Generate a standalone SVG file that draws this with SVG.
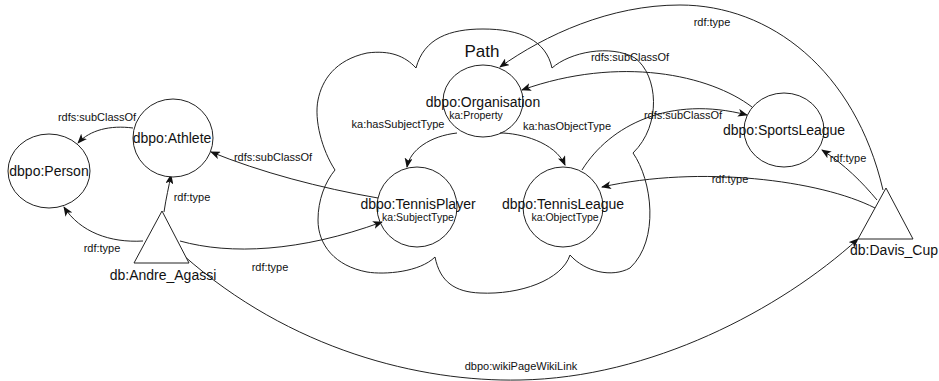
<svg xmlns="http://www.w3.org/2000/svg" width="939" height="381" viewBox="0 0 939 381">
<style>
.shape{fill:#fff;stroke:#222;stroke-width:1}
.cloud{fill:none;stroke:#222;stroke-width:1}
.edge{fill:none;stroke:#222;stroke-width:1;marker-end:url(#arr)}
.nl{font-family:"Liberation Sans",Arial,sans-serif;font-size:14px;fill:#111;text-anchor:middle}
.sl{font-family:"Liberation Sans",Arial,sans-serif;font-size:10.5px;fill:#111;text-anchor:middle}
.el{font-family:"Liberation Sans",Arial,sans-serif;font-size:11px;fill:#111;text-anchor:middle}
</style>
<defs>
<marker id="arr" markerWidth="10" markerHeight="8" refX="9" refY="4" orient="auto" markerUnits="userSpaceOnUse">
<path d="M0,0 L10,4 L0,8 L2.5,4 z" fill="#111"/>
</marker>
</defs>
<rect width="939" height="381" fill="#fff"/>
<g id="cloud-path">
<path class="cloud" d="M416,68 C424,38 450,29 483,29 C520,29 546,40 552,68 C570,52 610,44 635,58 C658,75 662,125 633,153 C652,180 660,240 630,268 C612,278 585,272 570,255 C562,280 520,295 480,293 C455,292 440,282 435,257 C420,272 385,275 367,272 C335,266 318,245 318,220 C318,200 325,182 335,170 C322,150 314,120 318,100 C322,80 335,60 367,53 C390,50 405,56 416,68 Z"/>
<text class="nl" x="482" y="57" style="font-size:17px">Path</text>
</g>
<g id="connectors">
<path class="edge" d="M133,128 C110,125 90,130 78,143"/>
<text class="el" x="97" y="121">rdfs:subClassOf</text>
<path class="edge" d="M143,241 C110,243 80,232 64,207"/>
<text class="el" x="102" y="252">rdf:type</text>
<path class="edge" d="M164,212 C166,198 169,186 171,175"/>
<text class="el" x="192" y="201">rdf:type</text>
<path class="edge" d="M378,198 C320,188 260,172 211,152"/>
<text class="el" x="273" y="161">rdfs:subClassOf</text>
<path class="edge" d="M180,241 C230,255 300,252 382,222"/>
<text class="el" x="270" y="271">rdf:type</text>
<path class="edge" d="M183,255 C290,350 420,382 520,380 C650,378 780,310 858,239"/>
<text class="el" x="521" y="370">dbpo:wikiPageWikiLink</text>
<path class="edge" d="M883,190 C855,70 770,5 680,5 C610,5 545,35 500,67"/>
<text class="el" x="712" y="26">rdf:type</text>
<path class="edge" d="M752,107 C710,75 620,55 522,90"/>
<text class="el" x="630" y="61">rdfs:subClassOf</text>
<path class="edge" d="M582,170 C610,125 670,95 747,115"/>
<text class="el" x="683" y="119">rdfs:subClassOf</text>
<path class="edge" d="M877,200 C862,182 845,165 822,150"/>
<text class="el" x="848" y="162">rdf:type</text>
<path class="edge" d="M875,208 C820,180 700,165 602,187"/>
<text class="el" x="730" y="183">rdf:type</text>
<path class="edge" d="M457,133 C430,136 410,150 407,167"/>
<text class="el" x="398" y="128">ka:hasSubjectType</text>
<path class="edge" d="M500,133 C520,133 555,142 565,165"/>
<text class="el" x="567" y="130">ka:hasObjectType</text>
</g>
<g id="person">
<ellipse class="shape" cx="49" cy="171" rx="41" ry="37"/>
<text class="nl" x="49" y="176">dbpo:Person</text>
</g>
<g id="athlete">
<ellipse class="shape" cx="173" cy="138" rx="40" ry="39"/>
<text class="nl" x="172" y="143">dbpo:Athlete</text>
</g>
<g id="andre-agassi">
<polygon class="shape" points="162,211 189,263 134,263"/>
<text class="nl" x="163" y="280">db:Andre_Agassi</text>
</g>
<g id="organisation">
<ellipse class="shape" cx="483" cy="101" rx="40" ry="36" style="fill:none"/>
<text class="nl" x="483" y="107">dbpo:Organisation</text>
<text class="sl" x="476" y="119">ka:Property</text>
</g>
<g id="tennisplayer">
<ellipse class="shape" cx="417" cy="207" rx="40" ry="40" style="fill:none"/>
<text class="nl" x="418" y="209">dbpo:TennisPlayer</text>
<text class="sl" x="418" y="221">ka:SubjectType</text>
</g>
<g id="tennisleague">
<ellipse class="shape" cx="563" cy="207" rx="40" ry="40" style="fill:none"/>
<text class="nl" x="563" y="209">dbpo:TennisLeague</text>
<text class="sl" x="565" y="221">ka:ObjectType</text>
</g>
<g id="sportsleague">
<ellipse class="shape" cx="784" cy="130" rx="40" ry="37" style="fill:none"/>
<text class="nl" x="784" y="135">dbpo:SportsLeague</text>
</g>
<g id="davis-cup">
<polygon class="shape" points="886,188 913,239 858,239" style="fill:none"/>
<text class="nl" x="894" y="255">db:Davis_Cup</text>
</g>
</svg>
